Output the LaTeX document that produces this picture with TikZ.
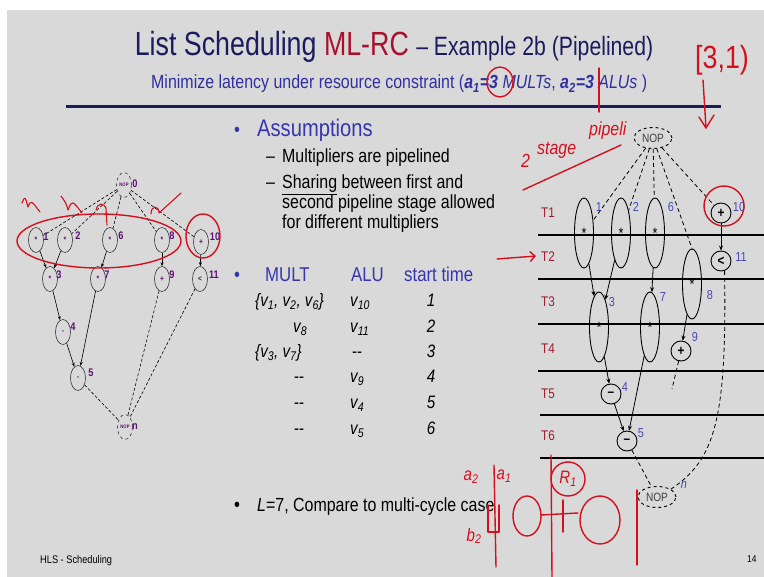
\documentclass[tikz,border=0pt]{standalone}
\usepackage{fontspec}
\setmainfont[FakeStretch=0.84]{Liberation Sans}
\newfontfamily\titlefont[FakeStretch=0.8]{Liberation Sans}
\usetikzlibrary{shapes.geometric,arrows.meta}

\definecolor{slidebg}{HTML}{D9D9D9}
\definecolor{titlenavy}{HTML}{1B1B5E}
\definecolor{titlered}{HTML}{A8102C}
\definecolor{subblue}{HTML}{2F2FA0}
\definecolor{headblue}{HTML}{3535B0}
\definecolor{labblue}{HTML}{4848B8}
\definecolor{tred}{HTML}{A01E2E}
\definecolor{dagpurple}{HTML}{5E0F74}
\definecolor{inkred}{HTML}{D4101E}

\newcommand{\vsub}[1]{\textit{v\textsubscript{#1}}}

\tikzset{
	dagnode/.style={ellipse,draw=black!80,line width=0.6pt,minimum width=15pt,minimum height=25pt,inner sep=0pt,font=\fontsize{8}{8}\selectfont\bfseries,text=dagpurple},
	dagnop/.style={dagnode,dashed,font=\fontsize{5}{5}\selectfont\bfseries},
	daglab/.style={font=\fontsize{11}{11}\selectfont\bfseries,text=dagpurple,inner sep=0pt},
	dagarc/.style={-{Stealth[length=4pt,width=3pt]},line width=0.6pt},
	dagdash/.style={line width=0.6pt,dash pattern=on 3pt off 2pt},
	stagenode/.style={ellipse,draw,line width=0.9pt,minimum width=19pt,minimum height=70pt,inner sep=0pt,font=\fontsize{15}{15}\selectfont},
	opnode/.style={circle,draw,line width=0.9pt,minimum size=20pt,inner sep=0pt,font=\fontsize{14}{14}\selectfont\bfseries},
	nopnode/.style={ellipse,draw,dashed,line width=0.9pt,minimum width=38pt,minimum height=21pt,inner sep=0pt,font=\fontsize{12}{12}\selectfont,text=black!75},
	oplab/.style={font=\fontsize{13}{13}\selectfont,text=labblue,inner sep=0pt},
	steplab/.style={font=\fontsize{14}{14}\selectfont,text=tred,inner sep=0pt},
	schedarc/.style={-{Stealth[length=5pt,width=4pt]},line width=0.8pt},
	scheddash/.style={line width=0.8pt,dash pattern=on 4pt off 3pt},
	txt/.style={anchor=base west,inner sep=0pt},
	ink/.style={inkred,line width=1.4pt,line cap=round,line join=round},
	inktext/.style={text=inkred,inner sep=0pt,font=\fontsize{18}{18}\selectfont\itshape},
	inkword/.style={inktext,anchor=base west,font=\fontsize{19}{19}\selectfont\itshape},
}

\begin{document}
\begin{tikzpicture}[x=1pt,y=-1pt]
	\useasboundingbox (0,0) rectangle (764,577);
	\fill[white] (0,0) rectangle (764,577);
	\fill[slidebg] (7,10) rectangle (764,577);

	% title
	\node (title) at (394,56) [anchor=base,inner sep=0pt,text=titlenavy] {\titlefont\fontsize{33.5}{38}\selectfont List Scheduling \textcolor{titlered}{ML-RC} \fontsize{26.5}{30}\selectfont\textendash{} Example 2b (Pipelined)};
	\node (subtitle) at (151,89) [anchor=base west,inner sep=0pt,text=subblue] {\fontsize{19}{21}\selectfont Minimize latency under resource constraint (\textbf{\itshape a\textsubscript{1}=3} \textit{MULTs}, \textbf{\itshape a\textsubscript{2}=3} \textit{ALUs} )};
	\draw[titlenavy,line width=3pt] (66,107) -- (721,107);

	% small DAG on the left
	\node (n0) at (124,185) [dagnop] {NOP};
	\node (n1) at (36,240) [dagnode] {*};
	\node (n2) at (65,240) [dagnode] {*};
	\node (n6) at (110,240) [dagnode] {*};
	\node (n8) at (162,240) [dagnode] {*};
	\node (n10) at (201,242) [dagnode] {+};
	\node (n3) at (50,279) [dagnode] {*};
	\node (n7) at (98,279) [dagnode] {*};
	\node (n9) at (162,279) [dagnode] {+};
	\node (n11) at (200,279) [dagnode] {<};
	\node (n4) at (63,332) [dagnode] {-};
	\node (n5) at (78,378) [dagnode] {-};
	\node (nn) at (125,427) [dagnop] {NOP};
	\node (ln0) at (135,184) [daglab] {0};
	\node (ln1) at (46,237) [daglab] {1};
	\node (ln2) at (78,236) [daglab] {2};
	\node (ln6) at (121,236) [daglab] {6};
	\node (ln8) at (172,236) [daglab] {8};
	\node (ln10) at (215,237) [daglab] {10};
	\node (ln3) at (59,275) [daglab] {3};
	\node (ln7) at (107,275) [daglab] {7};
	\node (ln9) at (172,275) [daglab] {9};
	\node (ln11) at (214,275) [daglab] {11};
	\node (ln4) at (73,327) [daglab] {4};
	\node (ln5) at (91,373) [daglab] {5};
	\node (lnn) at (135,427) [daglab] {n};
	\draw[dagdash] (n0) -- (n1);
	\draw[dagdash] (n0) -- (n2);
	\draw[dagdash] (n0) -- (n6);
	\draw[dagdash] (n0) -- (n8);
	\draw[dagdash] (n0) -- (n10);
	\draw[dagarc] (n1) -- (n3);
	\draw[dagarc] (n2) -- (n3);
	\draw[dagarc] (n6) -- (n7);
	\draw[dagarc] (n8) -- (n9);
	\draw[dagarc] (n10) -- (n11);
	\draw[dagarc] (n3) -- (n4);
	\draw[dagarc] (n4) -- (n5);
	\draw[dagarc] (n7) -- (n5);
	\draw[dagdash] (n5) -- (nn);
	\draw[dagdash] (n9) -- (nn);
	\draw[dagdash] (n11) -- (nn);

	% bullets
	\node (b1) at (234,137) [txt,text=headblue] {\fontsize{20}{20}\selectfont •};
	\node (assume) at (257,137) [txt,text=headblue] {\fontsize{24}{24}\selectfont Assumptions};
	\node (d1) at (266,163) [txt] {\fontsize{19}{19}\selectfont \textendash};
	\node (a1) at (282,163) [txt] {\fontsize{19}{19}\selectfont Multipliers are pipelined};
	\node (d2) at (266,189) [txt] {\fontsize{19}{19}\selectfont \textendash};
	\node (a2) at (282,189) [txt] {\fontsize{19}{19}\selectfont \underline{Sharing} between first and};
	\node (a3) at (282,209) [txt] {\fontsize{19}{19}\selectfont second pipeline stage allowed};
	\node (a4) at (282,229) [txt] {\fontsize{19}{19}\selectfont for different multipliers};

	\node (b2) at (234,282) [txt,text=headblue] {\fontsize{20}{20}\selectfont •};
	\node (hmult) at (265,282) [txt,text=headblue] {\fontsize{20}{20}\selectfont MULT};
	\node (halu) at (351,282) [txt,text=headblue] {\fontsize{20}{20}\selectfont ALU};
	\node (htime) at (404,282) [txt,text=headblue] {\fontsize{20}{20}\selectfont start time};

	\node (m1) at (255,307) [txt] {\fontsize{18}{18}\selectfont\itshape \{\vsub{1}, \vsub{2}, \vsub{6}\}};
	\node (m2) at (293,333) [txt] {\fontsize{18}{18}\selectfont \vsub{8}};
	\node (m3) at (255,358) [txt] {\fontsize{18}{18}\selectfont\itshape \{\vsub{3}, \vsub{7}\}};
	\node (m4) at (294,383) [txt] {\fontsize{18}{18}\selectfont -{}-};
	\node (m5) at (294,409) [txt] {\fontsize{18}{18}\selectfont -{}-};
	\node (m6) at (294,435) [txt] {\fontsize{18}{18}\selectfont -{}-};
	\node (u1) at (350,307) [txt] {\fontsize{18}{18}\selectfont \vsub{10}};
	\node (u2) at (350,333) [txt] {\fontsize{18}{18}\selectfont \vsub{11}};
	\node (u3) at (352,358) [txt] {\fontsize{18}{18}\selectfont -{}-};
	\node (u4) at (350,383) [txt] {\fontsize{18}{18}\selectfont \vsub{9}};
	\node (u5) at (350,409) [txt] {\fontsize{18}{18}\selectfont \vsub{4}};
	\node (u6) at (350,435) [txt] {\fontsize{18}{18}\selectfont \vsub{5}};
	\node (s1) at (431,307) [anchor=base,inner sep=0pt] {\fontsize{18}{18}\selectfont\itshape 1};
	\node (s2) at (431,333) [anchor=base,inner sep=0pt] {\fontsize{18}{18}\selectfont\itshape 2};
	\node (s3) at (431,358) [anchor=base,inner sep=0pt] {\fontsize{18}{18}\selectfont\itshape 3};
	\node (s4) at (431,383) [anchor=base,inner sep=0pt] {\fontsize{18}{18}\selectfont\itshape 4};
	\node (s5) at (431,409) [anchor=base,inner sep=0pt] {\fontsize{18}{18}\selectfont\itshape 5};
	\node (s6) at (431,435) [anchor=base,inner sep=0pt] {\fontsize{18}{18}\selectfont\itshape 6};

	\node (b3) at (234,512) [txt] {\fontsize{20}{20}\selectfont •};
	\node (lat) at (257,512) [txt] {\fontsize{19}{19}\selectfont \textit{L}=7, Compare to multi-cycle case};

	% schedule on the right
	\draw[line width=1.3pt] (538,235) -- (764,235);
	\draw[line width=1.3pt] (538,279) -- (764,279);
	\draw[line width=1.3pt] (538,324) -- (764,324);
	\draw[line width=1.3pt] (538,371) -- (764,371);
	\draw[line width=1.3pt] (540,415) -- (764,415);
	\draw[line width=1.3pt] (540,458) -- (764,458);
	\node (t1) at (548,213) [steplab] {T1};
	\node (t2) at (548,257) [steplab] {T2};
	\node (t3) at (548,302) [steplab] {T3};
	\node (t4) at (548,349) [steplab] {T4};
	\node (t5) at (548,394) [steplab] {T5};
	\node (t6) at (548,436) [steplab] {T6};

	\node (nopT) at (653,138) [nopnode] {NOP};
	\node (r1) at (584,233) [stagenode] {*};
	\node (r2) at (621,233) [stagenode] {*};
	\node (r6) at (655,233) [stagenode] {*};
	\node (r10) at (721,213) [opnode] {+};
	\node (r11) at (721,261) [opnode] {<};
	\node (r8) at (692,284) [stagenode] {*};
	\node (r3) at (599,327) [stagenode] {*};
	\node (r7) at (650,327) [stagenode] {*};
	\node (r9) at (681,351) [opnode] {+};
	\node (r4) at (611,394) [opnode] {\textendash};
	\node (r5) at (627,441) [opnode] {\textendash};
	\node (nopB) at (657,497) [nopnode] {NOP};
	\coordinate (end9) at (672,389);
	\node (lr1) at (599,207) [oplab] {1};
	\node (lr2) at (636,207) [oplab] {2};
	\node (lr6) at (671,207) [oplab] {6};
	\node (lr10) at (739,207) [oplab] {10};
	\node (lr11) at (741,257) [oplab] {11};
	\node (lr8) at (710,295) [oplab] {8};
	\node (lr3) at (612,302) [oplab] {3};
	\node (lr7) at (663,297) [oplab] {7};
	\node (lr9) at (695,337) [oplab] {9};
	\node (lr4) at (625,387) [oplab] {4};
	\node (lr5) at (641,433) [oplab] {5};
	\node (lrn) at (684,485) [oplab] {\itshape n};
	\draw[scheddash] (nopT) -- (r1);
	\draw[scheddash] (nopT) -- (r2);
	\draw[scheddash] (nopT) -- (r6);
	\draw[scheddash] (nopT) -- (r8.north);
	\draw[scheddash] (nopT) -- (r10);
	\draw[schedarc] (r1) -- (r3);
	\draw[schedarc] (r2) -- (r3);
	\draw[schedarc] (r6) -- (r7);
	\draw[schedarc] (r10) -- (r11);
	\draw[schedarc] (r8) -- (r9);
	\draw[schedarc] (r3) -- (r4);
	\draw[schedarc] (r4) -- (r5);
	\draw[schedarc] (r7) -- (r5);
	\draw[scheddash] (r9) -- (end9);
	\draw[scheddash] (r5) -- (nopB);
	\draw[scheddash] (r11.-70) .. controls (727,420) and (715,460) .. (nopB.north east);

	% footer
	\node (foot) at (40,563) [txt] {\fontsize{11}{11}\selectfont HLS - Scheduling};
	\node (page) at (747,562) [txt] {\fontsize{10}{10}\selectfont 14};

	% red pen notes
	\draw[ink] (99,241) ellipse [x radius=82, y radius=27];
	\draw[ink] (203,236) ellipse [x radius=17, y radius=22];
	\draw[ink,line width=1.1pt] (22,203) .. controls (25,196) .. (28,207) .. controls (31,200) .. (40,212);
	\draw[ink,line width=1.1pt] (61,196) .. controls (66,203) .. (68,210) .. controls (72,200) .. (82,213);
	\draw[ink,line width=1.1pt] (96,210) .. controls (98,202) and (104,203) .. (106,208) -- (107,225);
	\draw[ink,line width=1.1pt] (151,214) .. controls (151,205) and (159,205) .. (159,213) -- (181,193);
	\draw[ink] (500,82) ellipse [x radius=13, y radius=15];
	\draw[ink] (599,68) -- (599,112);
	\node (range) at (722,60) [inktext,font=\fontsize{32}{32}\selectfont] {[3,1)};
	\draw[ink] (703,80) -- (706,128);
	\draw[ink] (699,117) -- (706,128) -- (714,115);
	\node (pipe1) at (521,168) [inkword] {2};
	\node (pipe2) at (537,155) [inkword] {stage};
	\node (pipe3) at (589,136) [inkword] {pipeli};
	\draw[ink] (523,190) -- (621,145);
	\draw[ink,-{Straight Barb[length=5pt]}] (497,259) -- (536,256);
	\draw[ink] (724,206) circle [radius=20];
	\node (a2note) at (471,477) [inktext] {a\textsubscript{2}};
	\node (a1note) at (504,476) [inktext] {a\textsubscript{1}};
	\node (b2note) at (474,536) [inktext] {b\textsubscript{2}};
	\draw[ink] (494,465) -- (496,567);
	\draw[ink] (488,505) -- (488,532) -- (499,532) -- (499,505);
	\draw[ink] (527,516) ellipse [x radius=14, y radius=20];
	\draw[ink] (541,515) -- (578,513);
	\draw[ink] (551,455) -- (552,577);
	\draw[ink] (563,500) -- (563,532);
	\draw[ink] (600,520) ellipse [x radius=20, y radius=24];
	\draw[ink] (568,479) circle [radius=17];
	\node (r1note) at (568,479) [inktext] {R\textsubscript{1}};
	\draw[ink] (637,490) -- (637,565);
\end{tikzpicture}
\end{document}
